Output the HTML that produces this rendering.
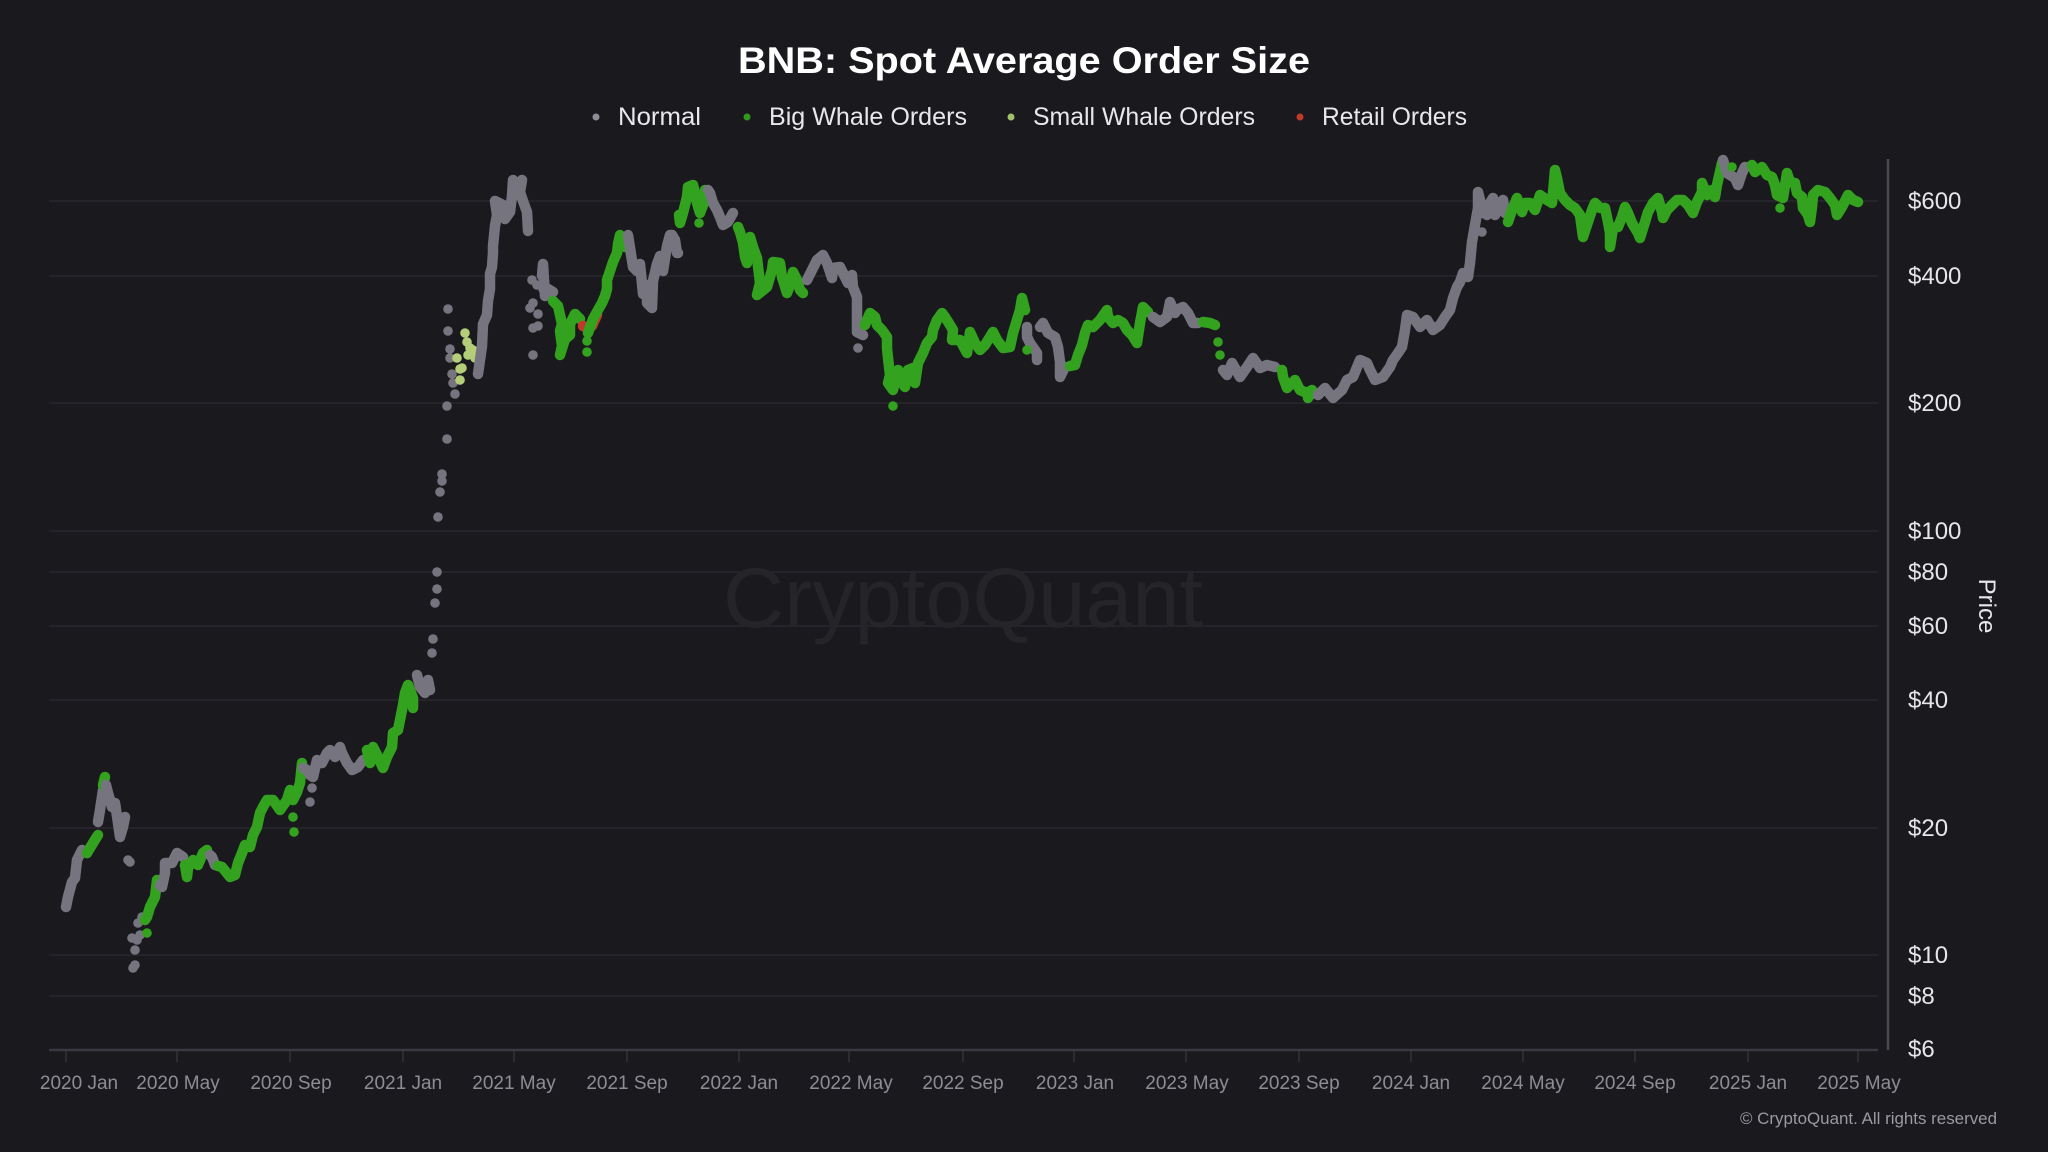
<!DOCTYPE html>
<html>
<head>
<meta charset="utf-8">
<style>
  html,body{margin:0;padding:0;background:#1a191e;}
  svg{display:block;}
  .t{font-family:"Liberation Sans",sans-serif;}
  .g{fill:none;stroke:#76757f;stroke-width:10.5;stroke-linecap:round;stroke-linejoin:round;}
  .b{fill:none;stroke:#33a21f;stroke-width:10.5;stroke-linecap:round;stroke-linejoin:round;}
  .r{fill:none;stroke:#bf3a2a;stroke-width:10.5;stroke-linecap:round;stroke-linejoin:round;}
  .cg{fill:#76757f;}
  .cb{fill:#33a21f;}
  .cl{fill:#b3cd78;}
  circle{r:4.8;}
</style>
</head>
<body>
<svg width="2048" height="1152" viewBox="0 0 2048 1152" xmlns="http://www.w3.org/2000/svg">
  <rect width="2048" height="1152" fill="#1a191e"/>

  <!-- Title -->
  <text class="t" x="1024" y="73" text-anchor="middle" font-size="37" font-weight="bold" fill="#ffffff" textLength="572" lengthAdjust="spacingAndGlyphs">BNB: Spot Average Order Size</text>

  <!-- Legend -->
  <circle cx="596" cy="117" r="3.5" style="r:3.5" fill="#8e8d98"/>
  <text class="t" x="618" y="125" font-size="25" fill="#e8e8ea" textLength="83" lengthAdjust="spacingAndGlyphs">Normal</text>
  <circle cx="747" cy="117" r="3.5" style="r:3.5" fill="#2f9a1d"/>
  <text class="t" x="769" y="125" font-size="25" fill="#e8e8ea" textLength="198" lengthAdjust="spacingAndGlyphs">Big Whale Orders</text>
  <circle cx="1011" cy="117" r="3.5" style="r:3.5" fill="#9fc268"/>
  <text class="t" x="1033" y="125" font-size="25" fill="#e8e8ea" textLength="222" lengthAdjust="spacingAndGlyphs">Small Whale Orders</text>
  <circle cx="1300" cy="117" r="3.5" style="r:3.5" fill="#c0392b"/>
  <text class="t" x="1322" y="125" font-size="25" fill="#e8e8ea" textLength="145" lengthAdjust="spacingAndGlyphs">Retail Orders</text>

  <!-- Gridlines -->
  <g stroke="#29282e" stroke-width="1.5">
    <line x1="49" y1="201" x2="1878" y2="201"/>
    <line x1="49" y1="276" x2="1878" y2="276"/>
    <line x1="49" y1="403" x2="1878" y2="403"/>
    <line x1="49" y1="531" x2="1878" y2="531"/>
    <line x1="49" y1="572" x2="1878" y2="572"/>
    <line x1="49" y1="626" x2="1878" y2="626"/>
    <line x1="49" y1="700" x2="1878" y2="700"/>
    <line x1="49" y1="828" x2="1878" y2="828"/>
    <line x1="49" y1="955" x2="1878" y2="955"/>
    <line x1="49" y1="996" x2="1878" y2="996"/>
  </g>

  <!-- Watermark -->
  <text class="t" x="963" y="627" text-anchor="middle" font-size="84" fill="#252429" textLength="480" lengthAdjust="spacingAndGlyphs">CryptoQuant</text>

  <!-- X axis -->
  <line x1="49" y1="1050" x2="1878" y2="1050" stroke="#3a3941" stroke-width="2.5"/>
  <g stroke="#3a3941" stroke-width="1.2">
    <line x1="66" y1="1051" x2="66" y2="1062"/>
    <line x1="177" y1="1051" x2="177" y2="1062"/>
    <line x1="290" y1="1051" x2="290" y2="1062"/>
    <line x1="403" y1="1051" x2="403" y2="1062"/>
    <line x1="514" y1="1051" x2="514" y2="1062"/>
    <line x1="627" y1="1051" x2="627" y2="1062"/>
    <line x1="739" y1="1051" x2="739" y2="1062"/>
    <line x1="849" y1="1051" x2="849" y2="1062"/>
    <line x1="963" y1="1051" x2="963" y2="1062"/>
    <line x1="1074" y1="1051" x2="1074" y2="1062"/>
    <line x1="1186" y1="1051" x2="1186" y2="1062"/>
    <line x1="1299" y1="1051" x2="1299" y2="1062"/>
    <line x1="1411" y1="1051" x2="1411" y2="1062"/>
    <line x1="1523" y1="1051" x2="1523" y2="1062"/>
    <line x1="1635" y1="1051" x2="1635" y2="1062"/>
    <line x1="1748" y1="1051" x2="1748" y2="1062"/>
    <line x1="1858" y1="1051" x2="1858" y2="1062"/>
  </g>
  <g class="t" font-size="19" fill="#8e8d96" text-anchor="middle">
    <text x="79" y="1089">2020 Jan</text>
    <text x="178" y="1089">2020 May</text>
    <text x="291" y="1089">2020 Sep</text>
    <text x="403" y="1089">2021 Jan</text>
    <text x="514" y="1089">2021 May</text>
    <text x="627" y="1089">2021 Sep</text>
    <text x="739" y="1089">2022 Jan</text>
    <text x="851" y="1089">2022 May</text>
    <text x="963" y="1089">2022 Sep</text>
    <text x="1075" y="1089">2023 Jan</text>
    <text x="1187" y="1089">2023 May</text>
    <text x="1299" y="1089">2023 Sep</text>
    <text x="1411" y="1089">2024 Jan</text>
    <text x="1523" y="1089">2024 May</text>
    <text x="1635" y="1089">2024 Sep</text>
    <text x="1748" y="1089">2025 Jan</text>
    <text x="1859" y="1089">2025 May</text>
  </g>

  <!-- Y axis -->
  <line x1="1888" y1="159" x2="1888" y2="1050" stroke="#4a4952" stroke-width="2.5"/>
  <g class="t" font-size="24" fill="#e6e6e8">
    <text x="1908" y="209">$600</text>
    <text x="1908" y="284">$400</text>
    <text x="1908" y="411">$200</text>
    <text x="1908" y="539">$100</text>
    <text x="1908" y="580">$80</text>
    <text x="1908" y="634">$60</text>
    <text x="1908" y="708">$40</text>
    <text x="1908" y="836">$20</text>
    <text x="1908" y="963">$10</text>
    <text x="1908" y="1004">$8</text>
    <text x="1908" y="1057">$6</text>
  </g>
  <text class="t" x="0" y="0" font-size="24" fill="#e6e6e8" text-anchor="middle" transform="translate(1979,606) rotate(90)">Price</text>

  <!-- Copyright -->
  <text class="t" x="1740" y="1124" font-size="17" fill="#9a9aa2" textLength="257" lengthAdjust="spacingAndGlyphs">© CryptoQuant. All rights reserved</text>

  <!-- Data -->
  <g>
    <polyline class="g" points="66,907 68,897 72,882 75,878 77,860 82,850 87,853"/>
    <polyline class="b" points="87,853 90,848 93,843 98,835"/>
    <polyline class="g" points="98,822 100,810 103,790"/>
    <polyline class="b" points="103,785 105,777"/>
    <polyline class="g" points="106,785 108,793 112,807 115,803 118,823 120,837 123,827 125,817"/>
    <g class="cg">
      <circle cx="128" cy="860" r="4.8"/><circle cx="130" cy="862" r="4.8"/>
      <circle cx="133" cy="968" r="4.8"/><circle cx="135" cy="965" r="4.8"/>
      <circle cx="135" cy="950" r="4.8"/><circle cx="137" cy="940" r="4.8"/>
      <circle cx="138" cy="923" r="4.8"/><circle cx="140" cy="935" r="4.8"/>
      <circle cx="142" cy="917" r="4.8"/><circle cx="132" cy="938" r="4.8"/>
    </g>
    <polyline class="b" points="145,920 147,917 150,907 155,897 157,880"/>
    <circle class="cb" cx="147" cy="933" r="4.8"/>
    <polyline class="g" points="160,885 162,887 165,873 165,863 172,863 177,853 183,857"/>
    <polyline class="b" points="185,865 187,877 188,868 193,860 198,865 203,853 207,850"/>
    <polyline class="g" points="210,855 212,857 215,865"/>
    <polyline class="b" points="218,866 222,867 230,877 235,875 238,863 242,853 245,845 250,847 253,835 257,827 260,813 263,807 267,800 273,800 280,810 287,800 290,790 293,800 297,792 300,783 302,763"/>
    <circle class="cb" cx="293" cy="817" r="4.8"/><circle class="cb" cx="294" cy="832" r="4.8"/>
    <polyline class="g" points="303,768 307,770 310,775 313,777 317,760 322,763 327,753 330,750 335,757 340,747 342,753 347,763 352,770 358,767 363,760"/>
    <circle class="cg" cx="310" cy="802" r="4.8"/><circle class="cg" cx="312" cy="788" r="4.8"/>
    <polyline class="b" points="367,750 370,763 373,747 378,757 383,768 387,757 392,747 393,733 398,730 400,720 403,705 405,693 408,685 413,698 413,708"/>
    <polyline class="g" points="417,675 420,687 425,693 428,680 430,690"/>
    <g class="cg">
      <circle cx="432" cy="653" r="4.8"/><circle cx="433" cy="639" r="4.8"/>
      <circle cx="435" cy="603" r="4.8"/><circle cx="437" cy="589" r="4.8"/>
      <circle cx="437" cy="572" r="4.8"/><circle cx="438" cy="517" r="4.8"/>
      <circle cx="440" cy="492" r="4.8"/><circle cx="442" cy="481" r="4.8"/>
      <circle cx="442" cy="474" r="4.8"/><circle cx="447" cy="439" r="4.8"/>
      <circle cx="447" cy="406" r="4.8"/><circle cx="448" cy="309" r="4.8"/>
      <circle cx="448" cy="331" r="4.8"/><circle cx="450" cy="349" r="4.8"/>
      <circle cx="450" cy="358" r="4.8"/><circle cx="452" cy="374" r="4.8"/>
      <circle cx="453" cy="383" r="4.8"/><circle cx="455" cy="394" r="4.8"/>
    </g>
    <g class="cl">
      <circle cx="457" cy="358" r="4.8"/><circle cx="460" cy="369" r="4.8"/>
      <circle cx="460" cy="380" r="4.8"/><circle cx="465" cy="333" r="4.8"/>
      <circle cx="467" cy="342" r="4.8"/><circle cx="470" cy="348" r="4.8"/>
      <circle cx="472" cy="353" r="4.8"/><circle cx="475" cy="358" r="4.8"/>
      <circle cx="473" cy="350" r="4.8"/><circle cx="468" cy="355" r="4.8"/>
      <circle cx="462" cy="368" r="4.8"/>
    </g>
    <polyline class="g" points="478,374 480,360 482,346 483,324 487,315 488,301 490,289 490,274 492,267 493,253 493,246 495,226 497,215 495,201 503,205 505,219 510,212 512,196 513,180 518,187 522,180 520,192 523,201 527,212 528,231"/>
    <g class="cg">
      <circle cx="530" cy="308" r="4.8"/><circle cx="532" cy="280" r="4.8"/>
      <circle cx="533" cy="303" r="4.8"/><circle cx="533" cy="328" r="4.8"/>
      <circle cx="533" cy="355" r="4.8"/><circle cx="537" cy="285" r="4.8"/>
      <circle cx="538" cy="314" r="4.8"/><circle cx="538" cy="326" r="4.8"/>
      <circle cx="543" cy="289" r="4.8"/>
    </g>
    <polyline class="g" points="542,276 543,264 545,296 548,289 553,292"/>
    <polyline class="b" points="553,301 558,306 562,324 560,331 562,346 560,355 565,339 570,335 570,324 575,314 580,319"/>
    <polyline class="r" points="583,326 588,328 592,326 597,315"/>
    <circle class="cb" cx="587" cy="341" r="4.8"/><circle class="cb" cx="587" cy="352" r="4.8"/>
    <polyline class="b" points="588,333 593,319 598,310 602,303 605,296 607,289 607,280 610,271 613,262 617,253 618,244 620,235 623,239 625,247"/>
    <polyline class="g" points="628,235 633,267 637,271 640,264 643,294 647,285 647,303 652,308 653,281 657,264 660,256 663,271 667,246 670,235 672,235 675,240 677,253 678,253"/>
    <polyline class="b" points="679,215 680,223 683,213 687,197 688,187 693,185 695,193 697,203 700,213 705,200 705,190"/>
    <circle class="cb" cx="699" cy="223" r="4.8"/>
    <polyline class="g" points="708,190 710,193 713,203 717,210 720,217 723,225 728,222 733,213"/>
    <polyline class="b" points="738,227 740,232 743,243 745,257 747,263 750,237 753,247 757,258 760,283 757,295 767,287 772,270 773,262 780,263 782,277 787,293 790,285 793,272 797,280 800,290 803,293"/>
    <polyline class="g" points="807,280 812,270 817,260 823,255 827,263 832,278 833,268 840,267 845,277 848,283 852,275 853,287 857,297 857,317 857,332 863,335"/>
    <circle class="cg" cx="858" cy="348" r="4.8"/>
    <polyline class="b" points="865,325 870,313 875,317 877,325 882,330 887,337 887,348 888,358 890,375 888,383 893,390 898,370 900,380 905,387 908,370 913,368 915,383 918,363 923,353 927,343 932,337 933,330 937,320 942,313 945,317 950,325 953,330 952,340 960,340 967,353 970,332 975,343 980,350 985,345 993,332 997,340 1003,348 1010,347 1013,333 1017,320 1020,310 1022,298 1025,310"/>
    <circle class="cb" cx="893" cy="406" r="4.8"/>
    <polyline class="g" points="1027,327 1027,337 1030,343 1037,353 1037,360"/>
    <polyline class="g" points="1040,327 1043,323 1048,333 1055,337 1058,347 1060,362 1060,377 1065,367"/>
    <circle class="cb" cx="1027" cy="350" r="4.8"/>
    <polyline class="b" points="1070,366 1075,365 1078,355 1082,345 1085,333 1088,325 1093,327 1100,320 1107,310 1108,317 1113,323 1118,320 1123,323 1127,330 1132,335 1137,343 1140,323 1143,307 1148,312"/>
    <polyline class="g" points="1153,317 1160,322 1167,317 1170,302 1175,313 1177,310 1183,307 1188,313 1193,323 1198,323"/>
    <polyline class="b" points="1203,322 1210,323 1215,325"/>
    <circle class="cb" cx="1218" cy="342" r="4.8"/><circle class="cb" cx="1220" cy="355" r="4.8"/>
    <polyline class="g" points="1223,370 1227,375 1232,363 1240,377 1247,367 1253,358 1260,368 1267,365 1275,367"/>
    <polyline class="b" points="1282,370 1283,377 1287,388 1295,380 1300,390 1307,393 1312,390 1308,398 1312,392"/>
    <polyline class="g" points="1318,395 1325,388 1333,398 1342,390 1347,380 1353,377 1360,360 1367,363 1370,370 1375,380 1383,377 1390,367 1393,360 1398,353 1402,347 1405,330 1407,315 1413,317 1420,327 1427,320 1433,330 1440,325 1445,317 1450,310 1453,298 1457,287 1460,282 1463,273 1468,277 1470,263 1472,242 1475,225 1478,208 1478,192 1483,212 1487,215 1490,203 1493,198 1495,215 1500,205 1503,200 1505,213"/>
    <circle class="cg" cx="1482" cy="232" r="4.8"/><circle class="cg" cx="1473" cy="238" r="4.8"/>
    <polyline class="b" points="1508,222 1512,210 1517,198 1522,212 1525,203 1530,203 1535,210 1540,195 1547,200 1552,203 1553,193 1555,170 1557,178 1560,193 1565,200 1570,205 1575,208 1580,215 1582,230 1583,237 1588,222 1592,210 1595,203 1600,208 1605,208 1608,222 1610,233 1610,247 1613,228 1618,227 1622,217 1625,207 1628,213 1632,223 1635,228 1638,233 1640,238 1645,222 1648,212 1653,203 1658,198 1662,212 1663,218 1667,210 1672,205 1677,200 1683,200 1688,205 1693,213 1697,202 1702,192 1702,183 1707,195 1712,190 1715,197 1717,185 1722,163"/>
    <polyline class="g" points="1723,160 1727,173 1735,178 1738,185 1742,173 1745,167"/>
    <circle class="cb" cx="1732" cy="167" r="4.8"/>
    <polyline class="b" points="1752,165 1755,172 1762,167 1767,175 1772,177 1775,185 1777,195 1783,198 1787,173 1790,182 1795,183 1797,193 1802,197 1803,208 1808,215 1810,222 1812,207 1813,195 1818,190 1825,192 1830,198 1835,205 1837,215 1842,207 1848,195 1853,200 1858,202"/>
    <circle class="cb" cx="1780" cy="208" r="4.8"/>
  </g>
</svg>
</body>
</html>
